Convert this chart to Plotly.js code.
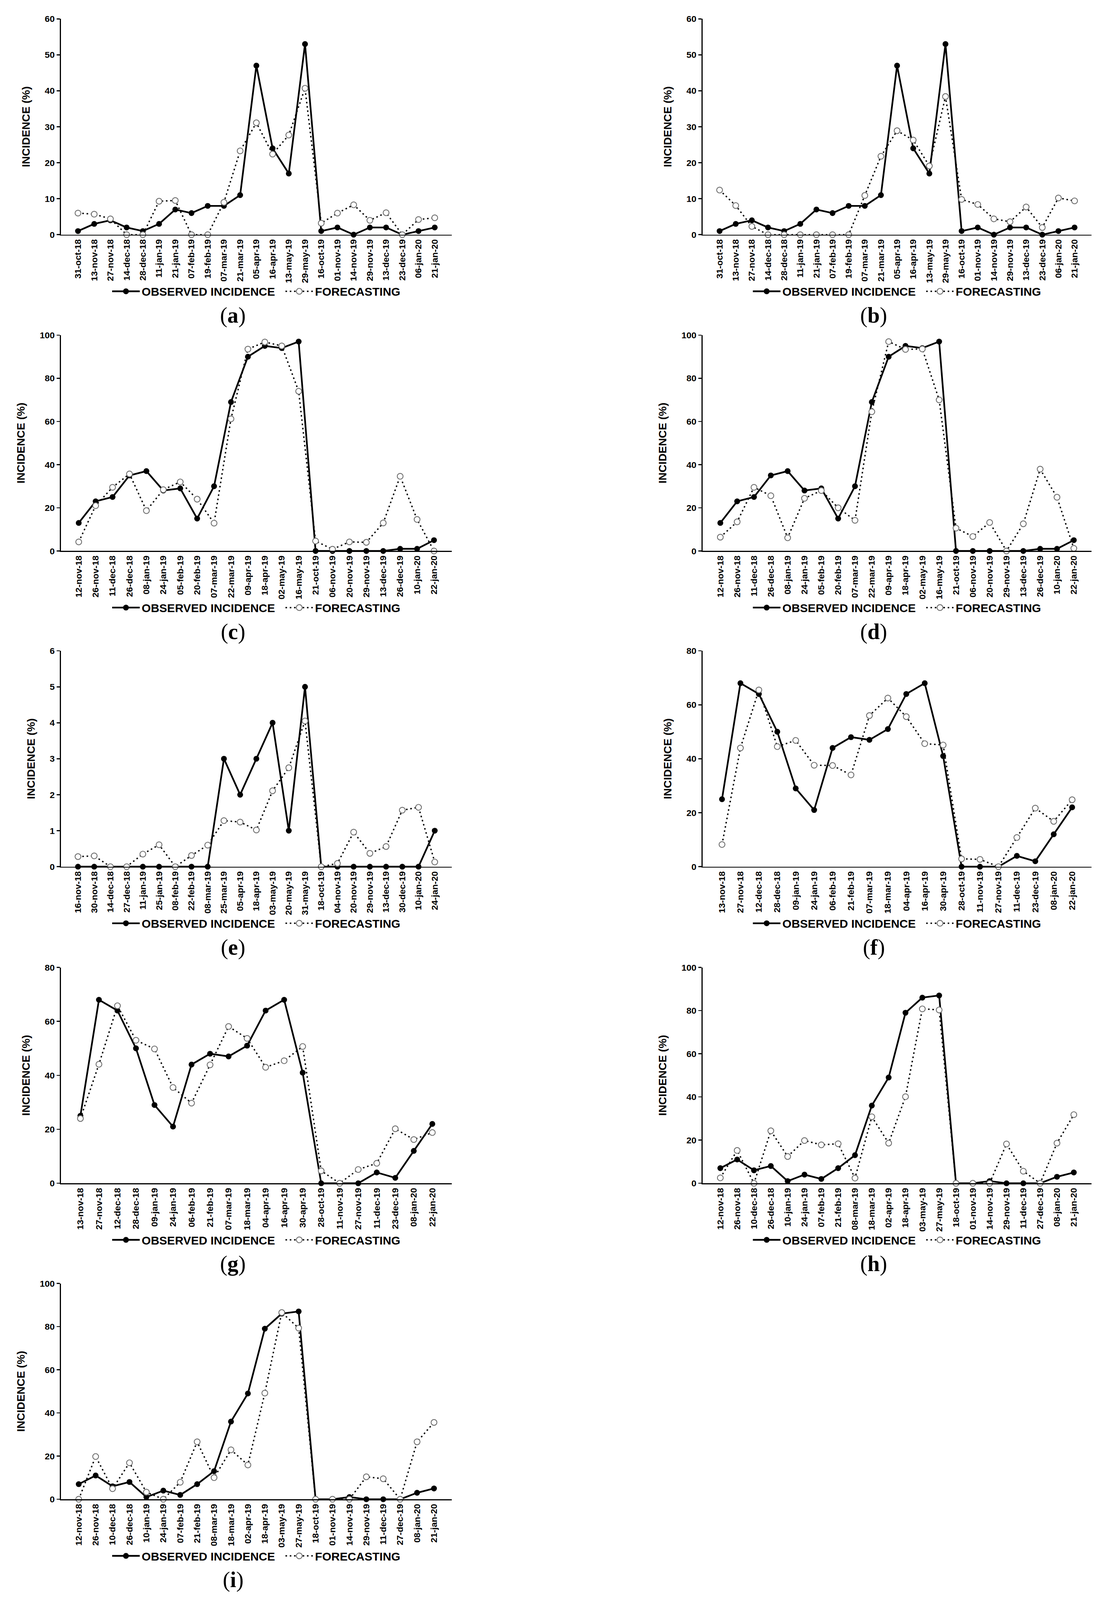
<!DOCTYPE html>
<html>
<head>
<meta charset="utf-8">
<script src="https://cdn.plot.ly/plotly-3.0.1.min.js"></script>
<style>
  html, body { margin: 0; padding: 0; background: #fff; overflow: hidden; }
</style>
</head>
<body>
<div id="chart"></div>
<script>
// sampling dates (panels a/b, c/d, e, f/g, h/i)
var datesAB = ["31-oct-18", "13-nov-18", "27-nov-18", "14-dec-18", "28-dec-18", "11-jan-19", "21-jan-19",
  "07-feb-19", "19-feb-19", "07-mar-19", "21-mar-19", "05-apr-19", "16-apr-19", "13-may-19", "29-may-19",
  "16-oct-19", "01-nov-19", "14-nov-19", "29-nov-19", "13-dec-19", "23-dec-19", "06-jan-20", "21-jan-20"];
var datesCD = ["12-nov-18", "26-nov-18", "11-dec-18", "26-dec-18", "08-jan-19", "24-jan-19", "05-feb-19",
  "20-feb-19", "07-mar-19", "22-mar-19", "09-apr-19", "18-apr-19", "02-may-19", "16-may-19", "21-oct-19",
  "06-nov-19", "20-nov-19", "29-nov-19", "13-dec-19", "26-dec-19", "10-jan-20", "22-jan-20"];
var datesE = ["16-nov-18", "30-nov-18", "14-dec-18", "27-dec-18", "11-jan-19", "25-jan-19", "08-feb-19",
  "22-feb-19", "08-mar-19", "25-mar-19", "05-apr-19", "18-apr-19", "03-may-19", "20-may-19", "31-may-19",
  "18-oct-19", "04-nov-19", "20-nov-19", "29-nov-19", "13-dec-19", "30-dec-19", "10-jan-20", "24-jan-20"];
var datesFG = ["13-nov-18", "27-nov-18", "12-dec-18", "28-dec-18", "09-jan-19", "24-jan-19", "06-feb-19",
  "21-feb-19", "07-mar-19", "18-mar-19", "04-apr-19", "16-apr-19", "30-apr-19", "28-oct-19", "11-nov-19",
  "27-nov-19", "11-dec-19", "23-dec-19", "08-jan-20", "22-jan-20"];
var datesHI = ["12-nov-18", "26-nov-18", "10-dec-18", "26-dec-18", "10-jan-19", "24-jan-19", "07-feb-19",
  "21-feb-19", "08-mar-19", "18-mar-19", "02-apr-19", "18-apr-19", "03-may-19", "27-may-19", "18-oct-19",
  "01-nov-19", "14-nov-19", "29-nov-19", "11-dec-19", "27-dec-19", "08-jan-20", "21-jan-20"];

// observed incidence (%)
var obsAB = [1, 3, 4, 2, 1, 3, 7, 6, 8, 8, 11, 47, 24, 17, 53, 1, 2, 0, 2, 2, 0, 1, 2];
var obsCD = [13, 23, 25, 35, 37, 28, 29, 15, 30, 69, 90, 95, 94, 97, 0, 0, 0, 0, 0, 1, 1, 5];
var obsE = [0, 0, 0, 0, 0, 0, 0, 0, 0, 3, 2, 3, 4, 1, 5, 0, 0, 0, 0, 0, 0, 0, 1];
var obsFG = [25, 68, 64, 50, 29, 21, 44, 48, 47, 51, 64, 68, 41, 0, 0, 0, 4, 2, 12, 22];
var obsHI = [7, 11, 6, 8, 1, 4, 2, 7, 13, 36, 49, 79, 86, 87, 0, 0, 1, 0, 0, 0, 3, 5];

// forecasts (%)
var fcA = [6, 5.7, 4.4, 0, 0, 9.3, 9.5, 0, 0, 9, 23.3, 31.1, 22.4, 27.7, 40.7, 3.2, 6, 8.3, 4, 6.1, 0, 4.2, 4.7];
var fcB = [12.4, 8.1, 2.3, 0, 0, 0, 0, 0, 0, 10.9, 21.8, 28.9, 26.3, 19.1, 38.4, 9.8, 8.4, 4.4, 3.6, 7.7, 2, 10.2, 9.4];
var fcC = [4.2, 21, 29.5, 35.7, 18.7, 28.4, 32, 24, 12.9, 61.2, 93.5, 96.8, 95, 74, 4.6, 0.8, 4.2, 4, 13, 34.6, 14.6, 0];
var fcD = [6.4, 13.5, 29.5, 25.6, 6.1, 24.4, 28, 20, 14.2, 64.5, 97, 93.4, 93.6, 70, 10.6, 6.7, 13.2, 0, 12.6, 37.9, 24.9, 1.2];
var fcE = [0.28, 0.3, 0, 0, 0.35, 0.61, 0, 0.31, 0.6, 1.28, 1.24, 1.02, 2.11, 2.75, 4.05, 0, 0.09, 0.96, 0.37, 0.56, 1.57, 1.65, 0.13];
var fcF = [8.2, 44, 65.5, 44.5, 46.8, 37.6, 37.5, 34, 56, 62.5, 55.6, 45.6, 45.1, 2.9, 2.7, 0, 10.8, 21.7, 16.8, 24.8];
var fcG = [24, 44.1, 65.8, 53, 49.8, 35.5, 29.7, 43.9, 58.1, 53.7, 43, 45.4, 50.7, 4.6, 0, 5.1, 7.4, 20.2, 16.2, 18.8];
var fcH = [2.5, 15.2, 0, 24.3, 12.4, 19.8, 17.8, 18.3, 2.4, 30.8, 18.6, 40.1, 80.8, 80.3, 0, 0, 0, 18.2, 5.6, 0, 18.6, 31.8];
var fcI = [0, 19.8, 4.9, 16.9, 3.3, 0, 7.9, 26.6, 10, 22.9, 15.9, 49.2, 86.5, 79.3, 0, 0, 0, 10.4, 9.5, 0, 26.6, 35.6];

var panelNames = ["a", "b", "c", "d", "e", "f", "g", "h", "i"];
var yMax = [60, 60, 100, 100, 6, 80, 80, 100, 100];
var yStep = [10, 10, 20, 20, 1, 20, 20, 20, 20];

var panels = [
  { dates: datesAB, obs: obsAB, fc: fcA },
  { dates: datesAB, obs: obsAB, fc: fcB },
  { dates: datesCD, obs: obsCD, fc: fcC },
  { dates: datesCD, obs: obsCD, fc: fcD },
  { dates: datesE, obs: obsE, fc: fcE },
  { dates: datesFG, obs: obsFG, fc: fcF },
  { dates: datesFG, obs: obsFG, fc: fcG },
  { dates: datesHI, obs: obsHI, fc: fcH },
  { dates: datesHI, obs: obsHI, fc: fcI }
];

// reference page is 2825 x 5352; fit that layout into whatever the window is
var RW = 2825, RH = 5352;
var W = window.innerWidth || RW, H = window.innerHeight || RH;
var sy = Math.min(1, H / RH);
var sm = Math.sqrt(sy);        // strokes and markers
var st = 0.5 * (1 + sy);       // text: width is not squeezed, height is
document.getElementById("chart").style.width = W + "px";
document.getElementById("chart").style.height = H + "px";

// panel geometry in reference pixels
var colX = [[156, 1156], [1798, 2793]];
var rowTop = [63, 1121, 2177, 3236, 4293];
var plotH = 722;

var FONT = "Liberation Sans, Arial, sans-serif";
var data = [];
var annotations = [];
var layout = {
  width: W, height: H,
  margin: { l: 0, r: 0, t: 0, b: 0 },
  paper_bgcolor: "#fff", plot_bgcolor: "#fff",
  font: { family: FONT, color: "#000" },
  showlegend: true,
  annotations: annotations
};

panels.forEach(function (p, i) {
  var suf = i === 0 ? "" : String(i + 1);
  var col = i % 2, row = Math.floor(i / 2);
  var x0 = colX[col][0], x1 = colX[col][1];
  var top = rowTop[row], bottom = top + plotH;
  var leg = "legend" + suf;

  data.push({
    type: "scatter", mode: "lines+markers",
    x: p.dates, y: p.obs, name: "OBSERVED INCIDENCE\u00a0\u00a0",
    xaxis: "x" + suf, yaxis: "y" + suf, legend: leg, cliponaxis: false,
    line: { color: "#000", width: 5 * sm },
    marker: { symbol: "circle", size: 17 * sm, color: "#000" }
  });
  data.push({
    type: "scatter", mode: "lines+markers",
    x: p.dates, y: p.fc, name: "FORECASTING",
    xaxis: "x" + suf, yaxis: "y" + suf, legend: leg, cliponaxis: false,
    line: { color: "#000", width: 4 * sm, dash: "4px,7px" },
    marker: { symbol: "circle", size: 17 * sm, color: "#fff", line: { color: "#6e6e6e", width: 2.5 * sm } }
  });

  layout["xaxis" + suf] = {
    domain: [x0 / RW, x1 / RW], anchor: "y" + suf,
    type: "category", range: [-1.05, p.dates.length + 0.05],
    showline: true, linecolor: "#000", linewidth: 3 * sm,
    showgrid: false, zeroline: false, ticks: "",
    tickangle: -90, ticklabelstandoff: 26 * sy,
    tickfont: { family: FONT, size: 30 * sy, weight: 700, color: "#000" },
    automargin: false, fixedrange: true
  };
  layout["yaxis" + suf] = {
    domain: [1 - bottom / RH, 1 - top / RH], anchor: "x" + suf,
    range: [0, yMax[i]], tick0: 0, dtick: yStep[i],
    showline: true, linecolor: "#000", linewidth: 3 * sm,
    showgrid: false, zeroline: false,
    ticks: "outside", ticklen: 10 * sm, tickwidth: 3 * sm, tickcolor: "#000",
    tickfont: { family: FONT, size: 26 * st, weight: 700, color: "#000" },
    title: { text: "INCIDENCE (%)", standoff: 30, font: { family: FONT, size: 32 * st, weight: 700, color: "#000" } },
    automargin: false, fixedrange: true
  };
  layout[leg] = {
    orientation: "h",
    x: (x0 + x1) / 2 / RW, xanchor: "center",
    y: 1 - (bottom + 190) / RH, yanchor: "middle",
    font: { family: FONT, size: 34 * st, weight: 700, color: "#000" },
    itemwidth: Math.max(30, 80 * st), bgcolor: "rgba(0,0,0,0)"
  };
  annotations.push({
    xref: "paper", yref: "paper",
    x: ((x0 + x1) / 2 - 60) / RW, y: 1 - (bottom + 270) / RH,
    xanchor: "center", yanchor: "middle", showarrow: false,
    text: "(<b>" + panelNames[i] + "</b>)",
    font: { family: "Liberation Serif, serif", size: 64 * st, color: "#000" }
  });
});

Plotly.newPlot("chart", data, layout, { staticPlot: true });
</script>
</body>
</html>
